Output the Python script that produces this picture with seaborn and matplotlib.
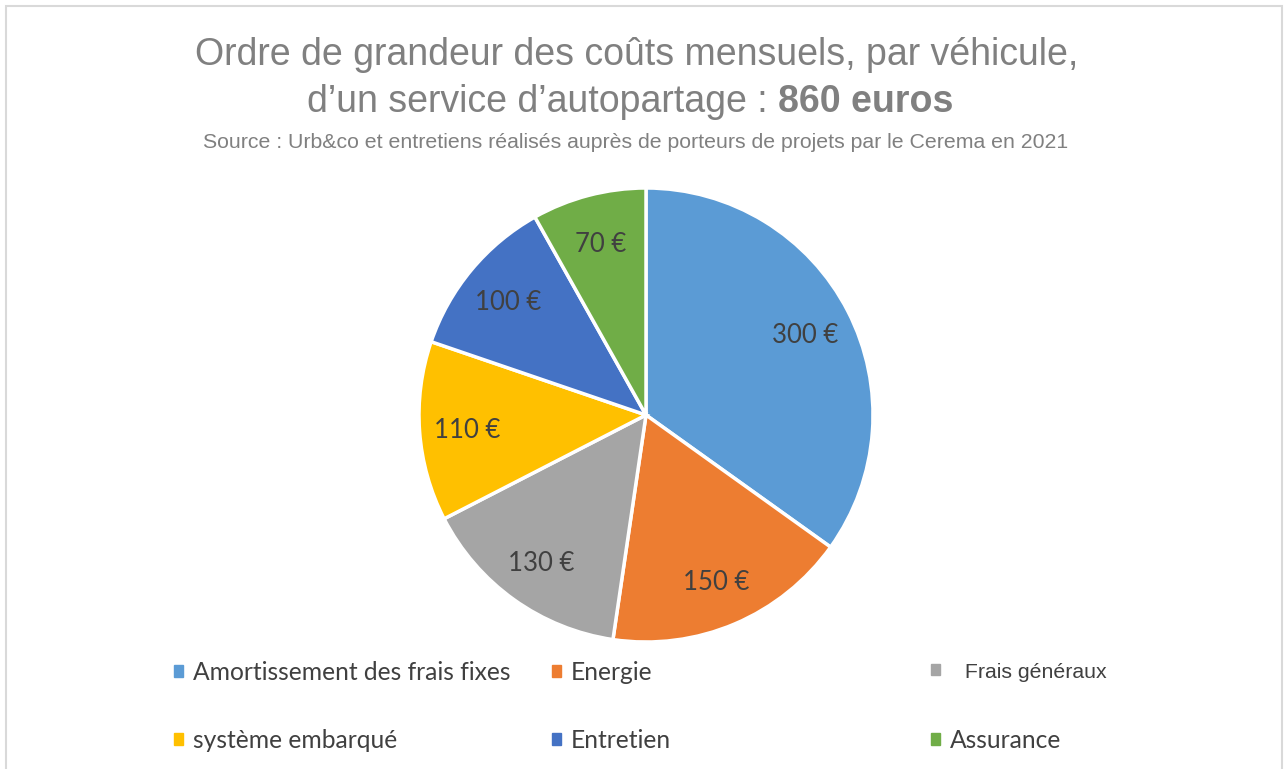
import matplotlib
matplotlib.use("Agg")
import matplotlib.pyplot as plt
import matplotlib.patches as mpatches
import seaborn as sns
import numpy as np

# ─── Données ───────────────────────────────────────────────────────────────────
categories = ["Amortissement des frais fixes", "Energie", " Frais généraux",
              "système embarqué", "Entretien", "Assurance"]
values = [300, 150, 130, 110, 100, 70]
value_labels = ["300 €", "150 €", "130 €", "110 €", "100 €", "70 €"]
colors = ["#5B9BD5", "#ED7D31", "#A5A5A5", "#FFC000", "#4472C4", "#70AD47"]

title_line1 = "Ordre de grandeur des coûts mensuels, par véhicule,"
title_line2_a = "d\u2019un service d\u2019autopartage : "
title_line2_b = "860 euros"
subtitle = "Source : Urb&co et entretiens réalisés auprès de porteurs de projets par le Cerema en 2021"

# ─── Style ─────────────────────────────────────────────────────────────────────
sns.set_style("white")
plt.rcParams["font.family"] = ["Liberation Sans", "DejaVu Sans"]
LABEL_FONT = ["Lato", "DejaVu Sans"]
GREY = "#808080"
DARK = "#404040"

W, H = 1284, 769
fig = plt.figure(figsize=(W / 100, H / 100), dpi=100)

# axes du camembert : centre (646, 415), rayon 227 px
R = 227
cx, cy = 646, 415
ax = fig.add_axes([(cx - R) / W, 1 - (cy + R) / H, 2 * R / W, 2 * R / H])
palette = sns.color_palette(colors)
wedges, _ = ax.pie(values, colors=palette, startangle=90, counterclock=False,
                   wedgeprops=dict(edgecolor="white", linewidth=2.5))
ax.set_xlim(-1, 1)
ax.set_ylim(-1, 1)
ax.set_aspect("equal")

total = sum(values)
start = 90.0
for v, lab in zip(values, value_labels):
    span = v / total * 360
    mid = np.deg2rad(start - span / 2)
    ax.text(0.79 * np.cos(mid), 0.79 * np.sin(mid), lab, ha="center",
            va="center_baseline", fontsize=18.5, color=DARK, family=LABEL_FONT)
    start -= span

# ─── Titre ─────────────────────────────────────────────────────────────────────
fig.text(637 / W, 1 - 55 / H, title_line1, ha="center", va="center",
         fontsize=27, color=GREY)
fig.canvas.draw()
renderer = fig.canvas.get_renderer()
ta = fig.text(0, 1 - 102 / H, title_line2_a, ha="left", va="center",
              fontsize=27, color=GREY)
tb = fig.text(0, 1 - 102 / H, title_line2_b, ha="left", va="center",
              fontsize=27, color=GREY, fontweight="bold")
wa = ta.get_window_extent(renderer).width
wb = tb.get_window_extent(renderer).width
x0 = 630 - (wa + wb) / 2
ta.set_x(x0 / W)
tb.set_x((x0 + wa) / W)
fig.text(636 / W, 1 - 142 / H, subtitle, ha="center", va="center",
         fontsize=15.3, color=GREY)

# ─── Légende (une entrée par position) ─────────────────────────────────────────
col_x = [174, 552, 931]
row_y = [670, 738]
for i, (cat, col) in enumerate(zip(categories, palette)):
    r, c = divmod(i, 3)
    size, fam, pad = 17.7, LABEL_FONT, 7.2
    if cat.startswith(" "):
        size, fam, pad = 15.3, ["Liberation Sans", "DejaVu Sans"], 13.5
    leg = fig.legend([mpatches.Patch(color=col)], [cat],
                     loc="center left",
                     bbox_to_anchor=(col_x[c] / W, 1 - (row_y[r] + 2) / H),
                     frameon=False, borderpad=0, borderaxespad=0,
                     handlelength=6.5 / size, handleheight=6.5 / size,
                     handletextpad=pad / size,
                     prop={"family": fam, "size": size})
    leg.get_texts()[0].set_color(DARK)

# ─── Cadre ─────────────────────────────────────────────────────────────────────
fig.patches.append(mpatches.Rectangle((6 / W, -0.05), (1282 - 6) / W, 1 - 6 / H + 0.05,
                                      transform=fig.transFigure, fill=False,
                                      edgecolor="#D9D9D9", linewidth=1.5))

fig.savefig("out.png", dpi=100)
